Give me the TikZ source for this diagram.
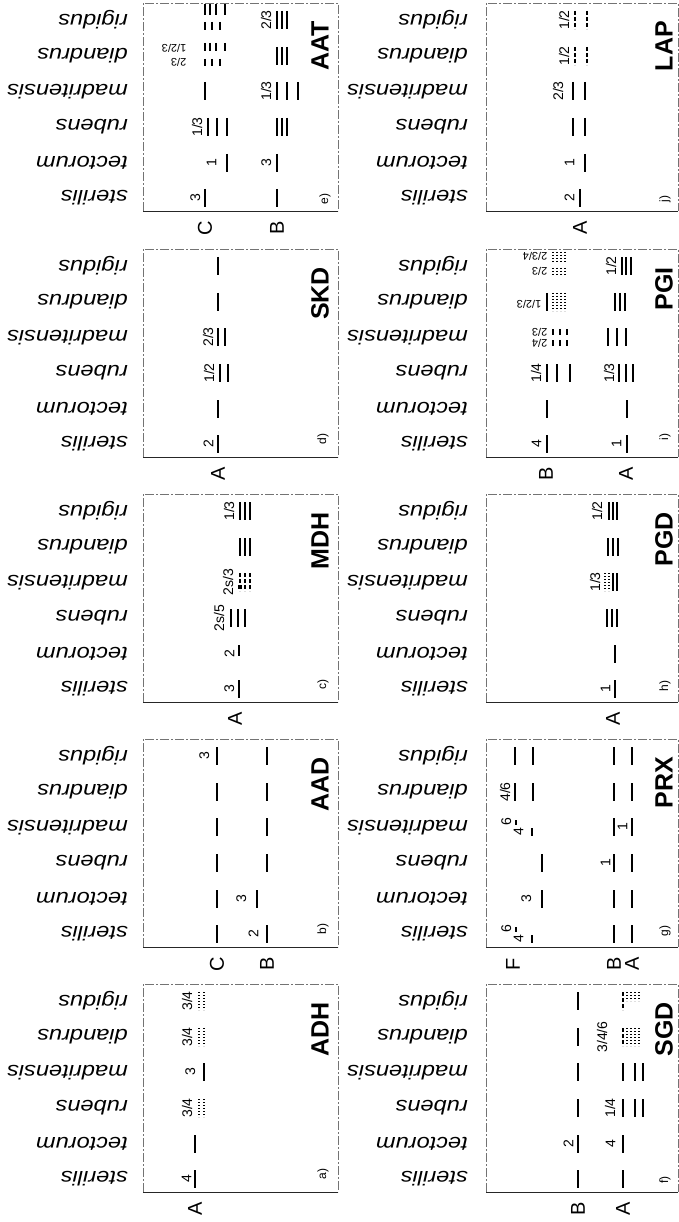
\documentclass[tikz,border=0pt]{standalone}
\usepackage{fontspec}
\setmainfont{Liberation Sans}
\usetikzlibrary{positioning}
\newcommand{\spname}[1]{\scalebox{1.18}[1]{#1}}
% rows of one panel, measured from its top edge
\newcommand{\rRig}{17}
\newcommand{\rDia}{53}
\newcommand{\rMad}{88}
\newcommand{\rRub}{124}
\newcommand{\rTec}{160}
\newcommand{\rSte}{195}
\newcommand{\bnd}[3][band]{\draw[#1] (#2,#3-9) -- (#2,#3+9);}

\begin{document}
\begin{tikzpicture}[
  x=1pt, y=-1pt,
  species/.style={rotate=180, anchor=west, inner sep=0pt,
    font=\fontsize{20}{20}\selectfont\itshape},
  panel/.style={draw=black!55, line width=0.7pt, dash pattern=on 9pt off 2pt on 2pt off 2pt},
  base/.style={draw=black!85, line width=0.8pt},
  band/.style={line width=1.9pt},
  faint/.style={line width=1.2pt, dash pattern=on 1.2pt off 1.8pt},
  broken/.style={line width=1.9pt, dash pattern=on 4pt off 2pt},
  blabel/.style={rotate=90, anchor=south, inner sep=0.5pt,
    font=\fontsize{14}{14}\selectfont},
  flabel/.style={rotate=180, anchor=west, inner sep=0.5pt,
    font=\fontsize{11}{11}\selectfont},
  zone/.style={rotate=90, inner sep=0pt, font=\fontsize{20}{20}\selectfont},
  enzyme/.style={rotate=90, anchor=east, inner sep=0pt,
    font=\fontsize{25}{25}\selectfont\bfseries},
  tag/.style={rotate=90, inner sep=0pt, font=\fontsize{12}{12}\selectfont}
]
\useasboundingbox (0,0) rectangle (679,1222);

% frames and species names
\foreach \top in {3,249,494,739,984} {
  \draw[panel] (143,\top+208) -- (143,\top) -- (338,\top) -- (338,\top+208);
  \draw[base] (143,\top+208) -- (338,\top+208);
  \draw[panel] (486,\top+208) -- (486,\top) -- (678,\top) -- (678,\top+208);
  \draw[base] (486,\top+208) -- (678,\top+208);
  \foreach \sp [count=\i] in {rigidus,diandrus,madritensis,rubens,tectorum,sterilis} {
    \node[species] (l\top-\i) at (128,\top+17+35.6*\i-35.6) {\spname{\sp}};
    \node[species] (r\top-\i) at (468,\top+17+35.6*\i-35.6) {\spname{\sp}};
  }
}

% a) ADH
\begin{scope}[shift={(143,984)}]
  \node[enzyme] (adh) at (177,18) {ADH};
  \node[tag] (adhtag) at (180,190) {a)};
  \node[zone] (adhA) at (52,225) {A};
  \bnd{52}{\rSte} \node[blabel] (adh1) at (49,\rSte) {4};
  \bnd{52}{\rTec}
  \bnd[faint]{56}{\rRub} \bnd[faint]{61}{\rRub}
  \node[blabel] (adh2) at (50,\rRub) {3/4};
  \bnd{61}{\rMad} \node[blabel] (adh3) at (53,\rMad) {3};
  \bnd[faint]{56}{\rDia} \bnd[faint]{61}{\rDia}
  \node[blabel] (adh4) at (50,\rDia) {3/4};
  \bnd[faint]{56}{\rRig} \bnd[faint]{61}{\rRig}
  \node[blabel] (adh5) at (50,\rRig) {3/4};
\end{scope}

% b) AAD
\begin{scope}[shift={(143,739)}]
  \node[enzyme] (aad) at (177,18) {AAD};
  \node[tag] (aadtag) at (180,190) {b)};
  \node[zone] (aadC) at (74,225) {C};
  \node[zone] (aadB) at (124,225) {B};
  \foreach \r in {\rSte,\rTec,\rRub,\rMad,\rDia,\rRig} { \bnd{74}{\r} }
  \foreach \r in {\rSte,\rRub,\rMad,\rDia,\rRig} { \bnd{124}{\r} }
  \node[blabel] (aad1) at (116,\rSte) {2};
  \bnd{114}{\rTec} \node[blabel] (aad2) at (104,\rTec) {3};
  \node[blabel] (aad3) at (67,\rRig) {3};
\end{scope}

% c) MDH
\begin{scope}[shift={(143,494)}]
  \node[enzyme] (mdh) at (177,18) {MDH};
  \node[tag] (mdhtag) at (180,190) {c)};
  \node[zone] (mdhA) at (92,225) {A};
  \bnd{96}{\rSte} \node[blabel] (mdh1) at (92,\rSte) {3};
  \draw[band] (96,\rTec-9) -- (96,\rTec+2);
  \node[blabel] (mdh2) at (92,\rTec) {2};
  \bnd{88}{\rRub} \bnd{95}{\rRub} \bnd{102}{\rRub}
  \node[blabel] (mdh3) at (82,\rRub) {2s/5};
  \bnd[broken]{97}{\rMad} \bnd[broken]{102}{\rMad} \bnd[broken]{107}{\rMad}
  \fill (95,\rMad+3) rectangle (99,\rMad+7);
  \node[blabel] (mdh4) at (91,\rMad) {2s/3};
  \bnd{97}{\rDia} \bnd{102}{\rDia} \bnd{107}{\rDia}
  \bnd{97}{\rRig} \bnd{102}{\rRig} \bnd{107}{\rRig}
  \node[blabel] (mdh5) at (92,\rRig) {1/3};
\end{scope}

% d) SKD
\begin{scope}[shift={(143,249)}]
  \node[enzyme] (skd) at (177,18) {SKD};
  \node[tag] (skdtag) at (180,190) {d)};
  \node[zone] (skdA) at (75,225) {A};
  \bnd{75}{\rSte} \node[blabel] (skd1) at (71,\rSte) {2};
  \bnd{75}{\rTec}
  \bnd{77}{\rRub} \bnd{85}{\rRub} \node[blabel] (skd2) at (72,\rRub) {1/2};
  \bnd{75}{\rMad} \bnd{82}{\rMad} \node[blabel] (skd3) at (71,\rMad) {2/3};
  \bnd{75}{\rDia}
  \bnd{75}{\rRig}
\end{scope}

% e) AAT
\begin{scope}[shift={(143,3)}]
  \node[enzyme] (aat) at (177,18) {AAT};
  \node[tag] (aattag) at (182,196) {e)};
  \node[zone] (aatC) at (62,225) {C};
  \node[zone] (aatB) at (134,225) {B};
  \bnd{62}{\rSte} \node[blabel] (aat1) at (58,\rSte) {3};
  \bnd{134}{\rSte}
  \bnd{84}{\rTec} \node[blabel] (aat2) at (74,\rTec) {1};
  \bnd{134}{\rTec} \node[blabel] (aat3) at (129,\rTec) {3};
  \bnd{65}{\rRub} \bnd{74}{\rRub} \bnd{84}{\rRub}
  \node[blabel] (aat4) at (60,\rRub) {1/3};
  \bnd{134}{\rRub} \bnd{139}{\rRub} \bnd{144}{\rRub}
  \bnd{62}{\rMad}
  \bnd{134}{\rMad} \bnd{144}{\rMad} \bnd{155}{\rMad}
  \node[blabel] (aat5) at (129,\rMad) {1/3};
  \foreach \x in {62,67,73,82} { \draw[band] (\x,40) -- (\x,48); }
  \foreach \x in {62,69,77} { \draw[band] (\x,56) -- (\x,63); }
  \node[flabel] (aat6) at (44,45) {1/2/3};
  \node[flabel] (aat7) at (44,59) {2/3};
  \bnd{134}{\rDia} \bnd{139}{\rDia} \bnd{144}{\rDia}
  \foreach \x in {62,67,73,82} { \draw[band] (\x,1) -- (\x,12); }
  \foreach \x in {62,69,77} { \draw[band] (\x,19) -- (\x,27); }
  \bnd{134}{\rRig} \bnd{139}{\rRig} \bnd{144}{\rRig}
  \node[blabel] (aat8) at (129,\rRig) {2/3};
\end{scope}

% f) SGD
\begin{scope}[shift={(486,984)}]
  \node[enzyme] (sgd) at (178,18) {SGD};
  \node[tag] (sgdtag) at (179,196) {f)};
  \node[zone] (sgdB) at (92,225) {B};
  \node[zone] (sgdA) at (137,225) {A};
  \foreach \r in {\rSte,\rTec,\rRub,\rMad,\rDia,\rRig} { \bnd{92}{\r} }
  \node[blabel] (sgd1) at (88,\rTec) {2};
  \bnd{137}{\rSte}
  \bnd{137}{\rTec} \node[blabel] (sgd2) at (130,\rTec) {4};
  \bnd{137}{\rRub} \bnd{149}{\rRub} \bnd{157}{\rRub}
  \node[blabel] (sgd3) at (130,\rRub) {1/4};
  \bnd{137}{\rMad} \bnd{149}{\rMad} \bnd{157}{\rMad}
  \bnd[broken]{137}{\rDia}
  \foreach \x in {141,145,149,153} { \draw[faint] (\x,\rDia-9) -- (\x,\rDia+9); }
  \node[blabel] (sgd4) at (122,\rDia) {3/4/6};
  \bnd[broken]{137}{\rRig}
  \foreach \x in {141,145,149,153} { \draw[faint] (\x,\rRig-9) -- (\x,\rRig); }
\end{scope}

% g) PRX
\begin{scope}[shift={(486,739)}]
  \node[enzyme] (prx) at (178,18) {PRX};
  \node[tag] (prxtag) at (179,192) {g)};
  \node[zone] (prxF) at (27,225) {F};
  \node[zone] (prxB) at (128,225) {B};
  \node[zone] (prxA) at (146,225) {A};
  \foreach \r in {\rSte,\rTec,\rRub,\rMad,\rDia,\rRig} { \bnd{128}{\r} \bnd{146}{\r} }
  \draw[band] (30,\rSte-7) -- (30,\rSte-2); \node[blabel] (prx1) at (26,\rSte-5) {6};
  \draw[band] (46,\rSte+1) -- (46,\rSte+9); \node[blabel] (prx2) at (38,\rSte+5) {4};
  \bnd{56}{\rTec} \node[blabel] (prx3) at (46,\rTec) {3};
  \bnd{56}{\rRub}
  \node[blabel] (prx4) at (125,\rRub) {1};
  \draw[band] (30,\rMad-7) -- (30,\rMad-2); \node[blabel] (prx5) at (26,\rMad-5) {6};
  \draw[band] (46,\rMad+1) -- (46,\rMad+9); \node[blabel] (prx6) at (38,\rMad+5) {4};
  \node[blabel] (prx8) at (142,\rMad) {1};
  \bnd{29}{\rDia} \bnd{47}{\rDia} \node[blabel] (prx7) at (25,\rDia) {4/6};
  \bnd{29}{\rRig} \bnd{47}{\rRig}
\end{scope}

% h) PGD
\begin{scope}[shift={(486,494)}]
  \node[enzyme] (pgd) at (178,18) {PGD};
  \node[tag] (pgdtag) at (179,192) {h)};
  \node[zone] (pgdA) at (127,225) {A};
  \bnd{129}{\rSte} \node[blabel] (pgd1) at (125,\rSte) {1};
  \bnd{129}{\rTec}
  \bnd{121}{\rRub} \bnd{126}{\rRub} \bnd{131}{\rRub}
  \bnd[faint]{119}{\rMad} \bnd[faint]{123}{\rMad} \bnd{127}{\rMad} \bnd{131}{\rMad}
  \node[blabel] (pgd2) at (115,\rMad) {1/3};
  \bnd{122}{\rDia} \bnd{127}{\rDia} \bnd{132}{\rDia}
  \bnd{123}{\rRig} \bnd{127}{\rRig} \bnd{131}{\rRig}
  \node[blabel] (pgd3) at (117,\rRig) {1/2};
\end{scope}

% i) PGI
\begin{scope}[shift={(486,249)}]
  \node[enzyme] (pgi) at (178,18) {PGI};
  \node[tag] (pgitag) at (179,188) {i)};
  \node[zone] (pgiB) at (60,225) {B};
  \node[zone] (pgiA) at (140,225) {A};
  \bnd{61}{\rSte} \node[blabel] (pgi1) at (56,\rSte) {4};
  \bnd{141}{\rSte} \node[blabel] (pgi2) at (136,\rSte) {1};
  \bnd{61}{\rTec} \bnd{141}{\rTec}
  \bnd{61}{\rRub} \bnd{71}{\rRub} \bnd{84}{\rRub}
  \node[blabel] (pgi3) at (56,\rRub) {1/4};
  \bnd{133}{\rRub} \bnd{140}{\rRub} \bnd{147}{\rRub}
  \node[blabel] (pgi4) at (129,\rRub) {1/3};
  \foreach \x in {67,74,81} { \draw[band] (\x,\rMad-8) -- (\x,\rMad-2); \draw[band] (\x,\rMad+3) -- (\x,\rMad+9); }
  \node[flabel] (pgi5) at (62,\rMad-5) {2/3};
  \node[flabel] (pgi6) at (62,\rMad+6) {2/4};
  \bnd{122}{\rMad} \bnd{131}{\rMad} \bnd{140}{\rMad}
  \bnd{61}{\rDia}
  \foreach \x in {67,71,75,79} { \draw[faint] (\x,\rDia-9) -- (\x,\rDia+9); }
  \node[flabel] (pgi7) at (56,\rDia+2) {1/2/3};
  \bnd{129}{\rDia} \bnd{134}{\rDia} \bnd{139}{\rDia}
  \foreach \x in {67,71,75,79} { \draw[faint] (\x,\rRig-14) -- (\x,\rRig-4); \draw[faint] (\x,\rRig+2) -- (\x,\rRig+10); }
  \node[flabel] (pgi8) at (62,\rRig-10) {2/3/4};
  \node[flabel] (pgi9) at (62,\rRig+5) {2/3};
  \bnd{136}{\rRig} \bnd{140}{\rRig} \bnd{145}{\rRig}
  \node[blabel] (pgi10) at (131,\rRig) {1/2};
\end{scope}

% j) LAP
\begin{scope}[shift={(486,3)}]
  \node[enzyme] (lap) at (178,18) {LAP};
  \node[tag] (laptag) at (179,196) {j)};
  \node[zone] (lapA) at (94,225) {A};
  \bnd{94}{\rSte} \node[blabel] (lap1) at (89,\rSte) {2};
  \bnd{99}{\rTec} \node[blabel] (lap2) at (89,\rTec) {1};
  \bnd{87}{\rRub} \bnd{99}{\rRub}
  \bnd{87}{\rMad} \bnd{99}{\rMad} \node[blabel] (lap3) at (78,\rMad) {2/3};
  \bnd[broken]{89}{\rDia} \bnd[broken]{101}{\rDia} \node[blabel] (lap4) at (84,\rDia) {1/2};
  \bnd[broken]{89}{\rRig} \bnd[broken]{101}{\rRig} \node[blabel] (lap5) at (84,\rRig) {1/2};
\end{scope}
\end{tikzpicture}
\end{document}
